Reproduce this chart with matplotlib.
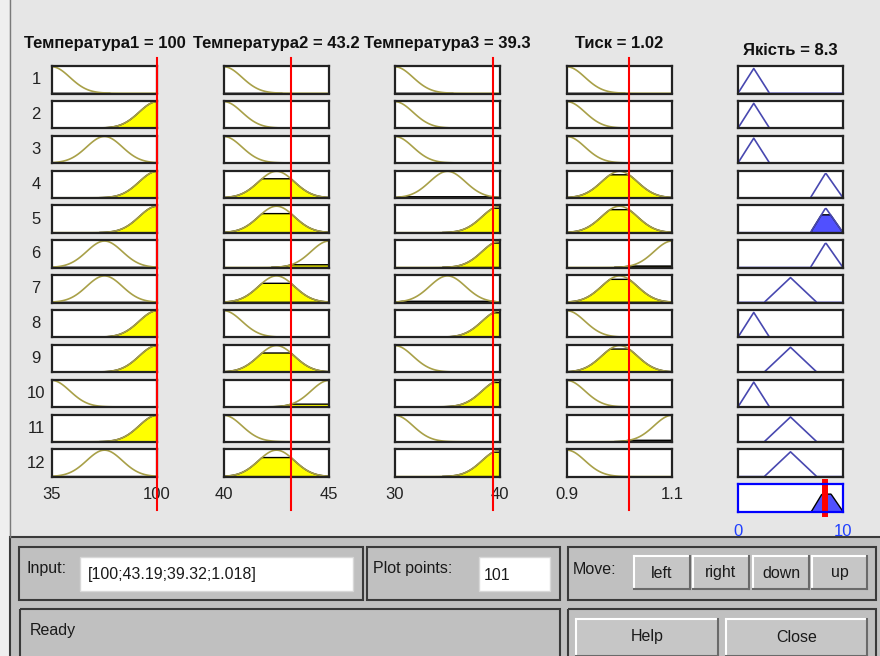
import numpy as np
import matplotlib
matplotlib.use("Agg")
import matplotlib.pyplot as plt
from matplotlib.patches import Rectangle

plt.rcParams['font.family'] = ['Liberation Sans', 'DejaVu Sans']

# ---- fuzzy system as read from the rule viewer ----
input_titles = ["Температура1 = 100", "Температура2 = 43.2",
                "Температура3 = 39.3", "Тиск = 1.02"]
input_ranges = [(35, 100), (40, 45), (30, 40), (0.9, 1.1)]
input_values = [100, 43.19, 39.32, 1.018]
input_tick_labels = [("35", "100"), ("40", "45"), ("30", "40"), ("0.9", "1.1")]

# gaussian MFs: centres for (low, mid, high) and a width per input
mf_centers = [[35, 67.5, 100], [40, 42.5, 45], [30, 35, 40], [0.9, 1.0, 1.1]]
mf_sigmas = [11.0, 0.85, 1.7, 0.034]

output_title = "Якість = 8.3"
output_range = (0, 10)
output_value = 8.3
output_tick_labels = ("0", "10")
output_tri = [[0, 1.5, 3], [2.5, 5, 7.5], [6.9, 8.35, 10]]

# rule table (0 = low, 1 = mid, 2 = high)
rule_inputs = [
    [0, 0, 0, 0],
    [2, 0, 0, 0],
    [1, 0, 0, 0],
    [2, 1, 1, 1],
    [2, 1, 2, 1],
    [1, 2, 2, 2],
    [1, 1, 1, 1],
    [2, 0, 2, 0],
    [2, 1, 0, 1],
    [0, 2, 2, 0],
    [2, 0, 0, 2],
    [1, 1, 2, 0],
]
rule_outputs = [0, 0, 0, 2, 2, 2, 1, 0, 1, 0, 1, 1]
plot_points = 101

# ---- layout (pixels) ----
W, H = 880, 656
col_left = [52, 224, 395, 567, 738]
col_w = 105
row_top0, row_step, row_h = 66, 34.85, 27.5
agg_top, agg_h = 484, 28

olive = '#a8a048'
slate = '#4848b0'
frame = '#222222'

fig = plt.figure(figsize=(W / 100, H / 100), dpi=100, facecolor='#e6e6e6')


def px_axes(left, top, w, h, **kw):
    return fig.add_axes([left / W, 1 - (top + h) / H, w / W, h / H], **kw)


def gauss(x, c, s):
    return np.exp(-(x - c) ** 2 / (2 * s ** 2))


def trimf(x, p):
    a, b, c = p
    return np.clip(np.minimum((x - a) / (b - a), (c - x) / (c - b)), 0, 1)


def style_box(ax, color=frame):
    ax.set_xticks([])
    ax.set_yticks([])
    for s in ax.spines.values():
        s.set_color(color)
        s.set_linewidth(1.6)


# ---- background / GUI panels ----
bg = fig.add_axes([0, 0, 1, 1], zorder=-10)
bg.set_xlim(0, W)
bg.set_ylim(H, 0)
bg.axis('off')
bg.add_patch(Rectangle((0, 0), 9, H, fc='#efefef', ec='none'))
bg.plot([9.5, 9.5], [0, 537], color='#7a7a7a', lw=1)
bg.add_patch(Rectangle((10, 537), 875, 125, fc='#c0c0c0', ec='#3a3a3a', lw=1.5))

panel_ec = '#3a3a3a'
for (x0, y0, x1, y1) in [(19, 547, 363, 600), (367, 547, 560, 600),
                         (568, 547, 876, 600), (20, 609, 560, 662),
                         (568, 609, 876, 662)]:
    bg.add_patch(Rectangle((x0, y0), x1 - x0, y1 - y0, fc='none', ec=panel_ec, lw=1.5))

txt_kw = dict(fontsize=11.5, color='#1a1a1a', va='center')
bg.text(27, 568, "Input:", **txt_kw)
bg.add_patch(Rectangle((80, 557), 273, 34, fc='white', ec='#d8d8d8', lw=1))
bg.text(88, 575, "[100;43.19;39.32;1.018]", **txt_kw)
bg.text(373, 568, "Plot points:", **txt_kw)
bg.add_patch(Rectangle((479, 557), 71, 34, fc='white', ec='#d8d8d8', lw=1))
bg.text(484, 575, str(plot_points), **txt_kw)
bg.text(573, 569, "Move:", **txt_kw)
bg.text(30, 631, "Ready", **txt_kw)


def button(x0, y0, x1, y1, label, ty):
    bg.add_patch(Rectangle((x0, y0), x1 - x0, y1 - y0, fc='#c6c6c6', ec='none'))
    bg.plot([x0, x1], [y0, y0], color='white', lw=1.5)
    bg.plot([x0, x0], [y0, y1], color='white', lw=1.5)
    bg.plot([x0, x1], [y1, y1], color='#6a6a6a', lw=1.5)
    bg.plot([x1, x1], [y0, y1], color='#6a6a6a', lw=1.5)
    bg.text((x0 + x1) / 2, ty, label, ha='center', **txt_kw)


button(634, 556, 690, 589, "left", 573)
button(693, 556, 749, 589, "right", 573)
button(753, 556, 809, 589, "down", 573)
button(812, 556, 867, 589, "up", 573)
button(576, 619, 718, 656, "Help", 637)
button(726, 619, 867, 656, "Close", 637)

# ---- rule rows ----
n_rules = len(rule_inputs)
agg_x = np.linspace(*output_range, plot_points)
aggregate = np.zeros_like(agg_x)

for r in range(n_rules):
    top = row_top0 + r * row_step
    strengths = []
    for i in range(4):
        lo, hi = input_ranges[i]
        ax = px_axes(col_left[i], top, col_w, row_h)
        x = np.linspace(lo, hi, plot_points)
        c = mf_centers[i][rule_inputs[r][i]]
        s = mf_sigmas[i]
        mf = gauss(x, c, s)
        mu = gauss(input_values[i], c, s)
        strengths.append(mu)
        ax.plot(x, mf, color=olive, lw=1.2)
        mask = mf > 0.005
        ax.fill(np.r_[x[mask], x[mask][::-1]],
                np.r_[np.minimum(mf[mask], mu), np.zeros(mask.sum())],
                facecolor='#ffff00', edgecolor='black', lw=1.0)
        ax.set_xlim(lo, hi)
        ax.set_ylim(-0.01, 1.03)
        style_box(ax)
        if i == 0:
            ax.text(-0.152, 0.5, str(r + 1), transform=ax.transAxes,
                    ha='center', va='center', fontsize=12, color='#222222')
        if r == 0:
            ax.set_title(input_titles[i], fontsize=12, fontweight='bold',
                         pad=13, color='#111111')
        if r == n_rules - 1:
            ax.set_xticks([lo, hi])
            ax.set_xticklabels(input_tick_labels[i], fontsize=12, color='#222222')
            ax.tick_params(axis='x', length=0, pad=7)

    fire = min(strengths)
    ax = px_axes(col_left[4], top, col_w, row_h)
    tri = trimf(agg_x, output_tri[rule_outputs[r]])
    clipped = np.minimum(tri, fire)
    aggregate = np.maximum(aggregate, clipped)
    ax.plot(agg_x, tri, color=slate, lw=1.2)
    mask = tri > 0
    ax.fill(np.r_[agg_x[mask], agg_x[mask][::-1]],
            np.r_[clipped[mask], np.zeros(mask.sum())],
            facecolor='#5050ff', edgecolor='black', lw=1.0)
    ax.set_xlim(*output_range)
    ax.set_ylim(-0.01, 1.1)
    style_box(ax)
    if r == 0:
        ax.set_title(output_title, fontsize=12, fontweight='bold', pad=8,
                     color='#111111')

# ---- aggregated output ----
ax = px_axes(col_left[4], agg_top, col_w, agg_h)
ax.fill_between(agg_x, 0, aggregate, facecolor='#5050ff', edgecolor='black', lw=1.0)
ax.axvline(output_value, ymin=-0.07, ymax=1.07, color='#ff0000', lw=4.3, clip_on=False)
ax.set_xlim(*output_range)
ax.set_ylim(-0.01, 1.1)
style_box(ax, color='#0000ff')
ax.set_xticks(list(output_range))
ax.set_xticklabels(output_tick_labels, fontsize=12, color='#1f3fff')
ax.tick_params(axis='x', length=0, pad=9)

# ---- red input markers across each column ----
for i in range(4):
    lo, hi = input_ranges[i]
    ov = px_axes(col_left[i], 58, col_w, 452, zorder=5)
    ov.set_xlim(lo, hi)
    ov.set_ylim(0, 1)
    ov.patch.set_alpha(0)
    ov.axis('off')
    ov.axvline(input_values[i], color='#ff0000', lw=1.5, clip_on=False)

fig.savefig("out.png", dpi=100, facecolor=fig.get_facecolor())
